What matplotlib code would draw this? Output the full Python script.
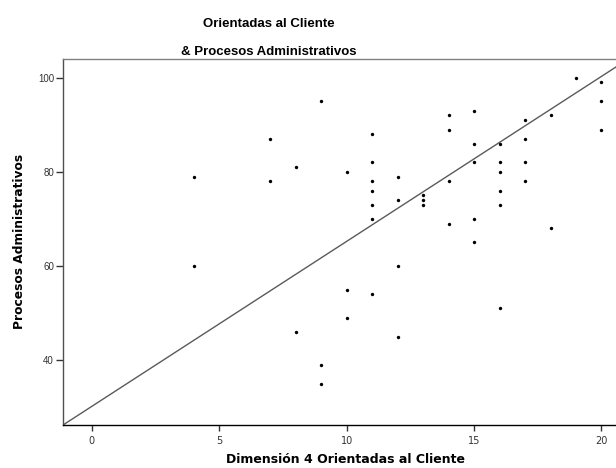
import matplotlib
matplotlib.use("Agg")
import matplotlib.pyplot as plt
import numpy as np

# Data
dim4_cliente = [4, 4, 7, 7, 8, 8, 9, 9, 9,
                10, 10, 10,
                11, 11, 11, 11, 11, 11, 11,
                12, 12, 12, 12,
                13, 13, 13,
                14, 14, 14, 14,
                15, 15, 15, 15, 15,
                16, 16, 16, 16, 16, 16,
                17, 17, 17, 17,
                18, 18, 19, 20, 20, 20]
procesos_admin = [79, 60, 87, 78, 81, 46, 95, 39, 35,
                  80, 55, 49,
                  88, 82, 78, 76, 73, 70, 54,
                  79, 74, 60, 45,
                  75, 74, 73,
                  92, 89, 78, 69,
                  93, 86, 82, 70, 65,
                  86, 82, 80, 76, 73, 51,
                  91, 87, 82, 78,
                  92, 68, 100, 99, 95, 89]

fit_intercept = 30.16
fit_slope = 3.507

x_ticks = [0, 5, 10, 15, 20]
y_ticks = [40, 60, 80, 100]
x_limits = (-1.13, 20.57)
y_limits = (26.2, 104.1)

title_lines = ["Orientadas al Cliente", "& Procesos Administrativos"]
x_label = "Dimensión 4 Orientadas al Cliente"
y_label = "Procesos Administrativos"

W, H = 616, 468
fig = plt.figure(figsize=(W / 100, H / 100), dpi=100)
left, right, top, bottom = 63, 616, 58.5, 425
ax = fig.add_axes([left / W, (H - bottom) / H, (right - left) / W, (bottom - top) / H])

ax.set_xlim(*x_limits)
ax.set_ylim(*y_limits)

# fit line
xs = np.array(x_limits)
ax.plot(xs, fit_intercept + fit_slope * xs, color="#5a5a5a", lw=1.0, zorder=2)

ax.scatter(dim4_cliente, procesos_admin, s=6, color="black", zorder=3, linewidths=0)

ax.spines["right"].set_visible(False)
ax.spines["top"].set_color("#808080")
ax.spines["left"].set_color("#505050")
ax.spines["bottom"].set_color("#000000")
for s in ax.spines.values():
    s.set_linewidth(1.0)

ax.set_xticks(x_ticks)
ax.set_yticks(y_ticks)
ax.tick_params(axis="x", direction="out", length=4, width=1, color="#333333",
               pad=4, labelsize=7, labelcolor="#333333")
ax.tick_params(axis="y", direction="out", length=5, width=1, color="#333333",
               pad=1.5, labelsize=7, labelcolor="#333333")
for lab in ax.get_xticklabels():
    lab.set_family("DejaVu Sans")
for lab in ax.get_yticklabels():
    lab.set_family("Liberation Sans")

# titles
fig.text(269 / W, 1 - 27 / H, title_lines[0], ha="center", va="baseline",
         fontsize=9.5, fontweight="bold", family="Liberation Sans")
fig.text(269 / W, 1 - 55 / H, title_lines[1], ha="center", va="baseline",
         fontsize=9.5, fontweight="bold", family="Liberation Sans")

fig.text(345.5 / W, 1 - 463 / H, x_label, ha="center", va="baseline",
         fontsize=9, fontweight="bold", family="DejaVu Sans")
fig.text(20 / W, 1 - 241.5 / H, y_label, ha="center", va="center", rotation=90,
         fontsize=8.8, fontweight="bold", family="DejaVu Sans")

fig.savefig("out.png", dpi=100)
